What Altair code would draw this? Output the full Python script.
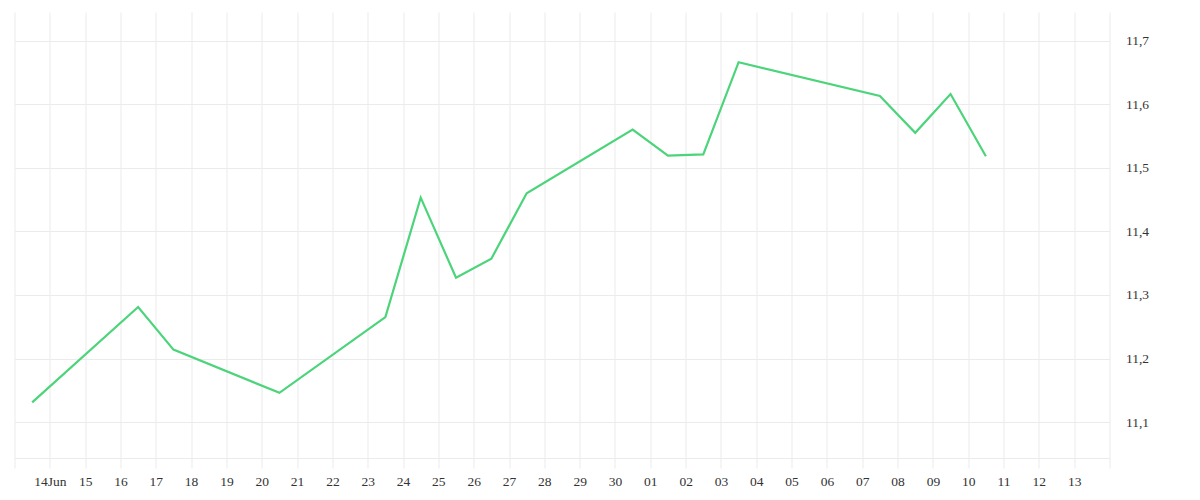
import altair as alt
import pandas as pd

dates = [
    "2024-06-13T12:00:00", "2024-06-16T12:00:00", "2024-06-17T12:00:00",
    "2024-06-20T12:00:00", "2024-06-23T12:00:00", "2024-06-24T12:00:00",
    "2024-06-25T12:00:00", "2024-06-26T12:00:00", "2024-06-27T12:00:00",
    "2024-06-30T12:00:00", "2024-07-01T12:00:00", "2024-07-02T12:00:00",
    "2024-07-03T12:00:00", "2024-07-07T12:00:00", "2024-07-08T12:00:00",
    "2024-07-09T12:00:00", "2024-07-10T12:00:00",
]
values = [
    11.131, 11.281, 11.214, 11.146, 11.265, 11.453, 11.327, 11.357, 11.460,
    11.560, 11.519, 11.521, 11.666, 11.613, 11.555, 11.616, 11.518,
]
y_ticks = [11.1, 11.2, 11.3, 11.4, 11.5, 11.6, 11.7]
x_domain = ["2024-06-13T00:00:00", "2024-07-14T00:00:00"]
y_domain = [11.0435, 11.745]

df = pd.DataFrame({"date": dates, "value": values})

grid_col = "#ebebeb"
font = "Liberation Serif"

chart = alt.Chart(df).mark_line(color="#4cd47b", strokeWidth=2.2).encode(
    x=alt.X(
        "date:T",
        scale=alt.Scale(domain=x_domain, nice=False),
        axis=alt.Axis(
            title=None,
            tickCount={"interval": "day", "step": 1},
            labelExpr="(date(datum.value) == 13 && month(datum.value) == 5) || (date(datum.value) == 14 && month(datum.value) == 6) ? '' : (date(datum.value) == 14 && month(datum.value) == 5 ? '14Jun' : timeFormat(datum.value, '%d'))",
            labelOverlap=False,
            labelFlush=False,
            labelBound=False,
            grid=True,
            gridColor=grid_col,
            gridWidth=1,
            domainColor=grid_col,
            tickColor=grid_col,
            tickSize=10,
            labelPadding=6,
            labelFont=font,
            labelFontSize=13.5,
            labelColor="#333333",
        ),
    ),
    y=alt.Y(
        "value:Q",
        scale=alt.Scale(domain=y_domain, nice=False, zero=False),
        axis=alt.Axis(
            title=None,
            orient="right",
            values=y_ticks,
            labelExpr="replace(format(datum.value, '.1f'), '.', ',')",
            grid=True,
            gridColor=grid_col,
            gridWidth=1,
            domain=False,
            ticks=False,
            labelPadding=16,
            labelFont=font,
            labelFontSize=13.5,
            labelColor="#333333",
        ),
    ),
).properties(
    width=1095,
    height=446,
    background="white",
    padding={"left": 5.5, "top": 4, "right": 5, "bottom": 5},
).configure_view(strokeWidth=0, stroke="transparent")

chart.save("out.html", embed_options={"renderer": "svg", "actions": False})
